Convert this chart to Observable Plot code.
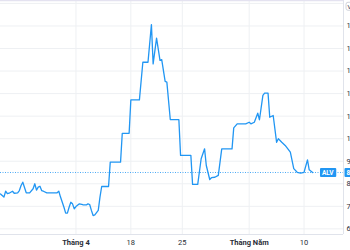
<!DOCTYPE html>
<html><head><meta charset="utf-8">
<script src="https://cdn.jsdelivr.net/npm/d3@7"></script>
<script src="https://cdn.jsdelivr.net/npm/@observablehq/plot@0.6"></script>
<style>html,body{margin:0;padding:0;background:#fff;overflow:hidden}svg{display:block}</style>
</head><body><div id="chart"></div>
<script>
// bar index (time axis) and closing price (thousand VND)
const bars = [0,1,2,3,4,5,7,8,10,11,12,13,15,17,19,20,21,22,23,24,25,27,33,34,35,37,38,39,40,41,42,43,44,46,48,50,51,52,53,54,55,57,58,59,63,64,70,71,75,76,81,83,86,88,89,91,93,94,96,97,99,104,105,111,112,115,117,119,120,122,123,125,127,129,135,136,138,143,145,146,148,150,151,153,154,156,157,159,161,162,164,166,169,171,173,175,177,179,180,182];
const prices = [7.55,7.48,7.41,7.67,7.56,7.58,7.67,7.58,7.60,7.70,7.92,8.07,7.60,7.60,7.78,8.00,7.72,7.85,7.89,7.70,7.67,7.60,7.60,7.67,7.41,6.96,6.70,6.70,6.96,7.18,7.11,6.89,6.99,7.11,7.07,7.06,7.11,7.08,6.82,6.59,6.62,6.82,7.41,7.88,7.88,8.96,8.96,10.24,10.24,11.72,11.72,13.39,13.39,15.06,13.32,14.46,13.47,13.51,12.54,12.51,10.85,10.85,9.26,9.26,7.97,7.97,9.11,9.55,8.81,8.19,8.27,8.29,8.37,9.55,9.55,10.48,10.66,10.66,10.73,10.66,10.73,11.13,10.84,11.92,12.02,12.02,10.95,11.03,9.84,10.00,9.84,9.70,9.40,8.67,8.51,8.47,8.51,9.06,8.62,8.50];
const priceTicks = [6,7,8,9,10,11,12,13,14,15,16];
const priceTickLabels = ["6.000","7.000","8.000","9.000","10.000","11.000","12.000","13.000","14.000","15.000","16.000"];
const timeTicks = [44,76,106,145,177];
const timeLabels = ["Tháng 4","18","25","Tháng Năm","10"];
const monthTicks = [44,145];
const symbol = "ALV";
const currency = "VND";

const data = bars.map((b,i)=>({bar:b, price:prices[i]}));
const last = data[data.length-1];
const tickLabel = d => timeLabels[timeTicks.indexOf(d)];
const priceLabel = d => priceTickLabels[priceTicks.indexOf(d)];
const blue = "#2196f3";
const gridC = "#eef0f3";

const chart = Plot.plot({
  width: 350, height: 250,
  marginLeft: 0, marginRight: 7, marginTop: 0, marginBottom: 16,
  style: {fontFamily: "Roboto, 'Liberation Sans', sans-serif", fontSize: "7.5px", color: "#2a2e39", background: "#fff", overflow: "hidden"},
  x: {domain: [0, 200], axis: null},
  y: {domain: [5.75, 16.13], axis: null},
  marks: [
    Plot.gridY(priceTicks, {stroke: gridC, strokeOpacity: 1}),
    Plot.gridX(timeTicks, {stroke: gridC, strokeOpacity: 1}),
    Plot.ruleY([last.price], {stroke: blue, strokeDasharray: "1,1.5", strokeWidth: 0.8}),
    Plot.line(data, {x: "bar", y: "price", stroke: blue, strokeWidth: 1.3}),
    Plot.ruleX([200], {stroke: "#e0e3eb"}),
    Plot.ruleY([5.75], {stroke: "#e0e3eb"}),
    Plot.ruleY([16.13], {stroke: "#e4e2f0", strokeWidth: 1.5}),
    Plot.axisY(priceTicks.filter(t => t < 16), {anchor: "right", label: null, tickSize: 0, tickPadding: 3, tickFormat: priceLabel, fill: "#2a2e39"}),
    Plot.axisX(monthTicks, {label: null, tickSize: 0, tickPadding: 5, tickFormat: tickLabel, fontWeight: "bold", fill: "#2a2e39"}),
    Plot.axisX(timeTicks.filter(t => !monthTicks.includes(t)), {label: null, tickSize: 0, tickPadding: 5, tickFormat: tickLabel, fill: "#2a2e39"}),
    Plot.text([last], {y: "price", frameAnchor: "right", text: () => symbol, dx: -10, fill: "white", fontWeight: "bold", fontSize: 6.5}),
    Plot.text([last], {y: "price", frameAnchor: "right", text: d => d.price.toFixed(3), textAnchor: "start", dx: 3, fill: "white", fontWeight: "bold", fontSize: 6.5}),
    Plot.text([currency], {frameAnchor: "top-right", text: d => d, textAnchor: "start", dx: 4, dy: 4, fill: "#2a2e39", fontSize: 6})
  ]
});
document.getElementById("chart").appendChild(chart);

function boxBehind(txt, fill, stroke, padX, h) {
  d3.select(chart).selectAll("text").filter(function(){return this.textContent === txt;}).each(function(){
    const b = this.getBBox();
    const cy = b.y + b.height/2;
    const r = d3.select(this.parentNode).insert("rect", () => this)
      .attr("x", b.x - padX).attr("y", cy - h/2)
      .attr("width", b.width + 2*padX).attr("height", h)
      .attr("rx", stroke ? 2 : 1)
      .attr("fill", fill).attr("stroke", stroke || "none");
    const tr = this.getAttribute("transform");
    if (tr) r.attr("transform", tr);
  });
}
boxBehind(symbol, blue, null, 2, 9);
boxBehind(last.price.toFixed(3), blue, null, 2, 9);
boxBehind(currency, "#fff", "#d1d4dc", 1.5, 8);
</script></body></html>
